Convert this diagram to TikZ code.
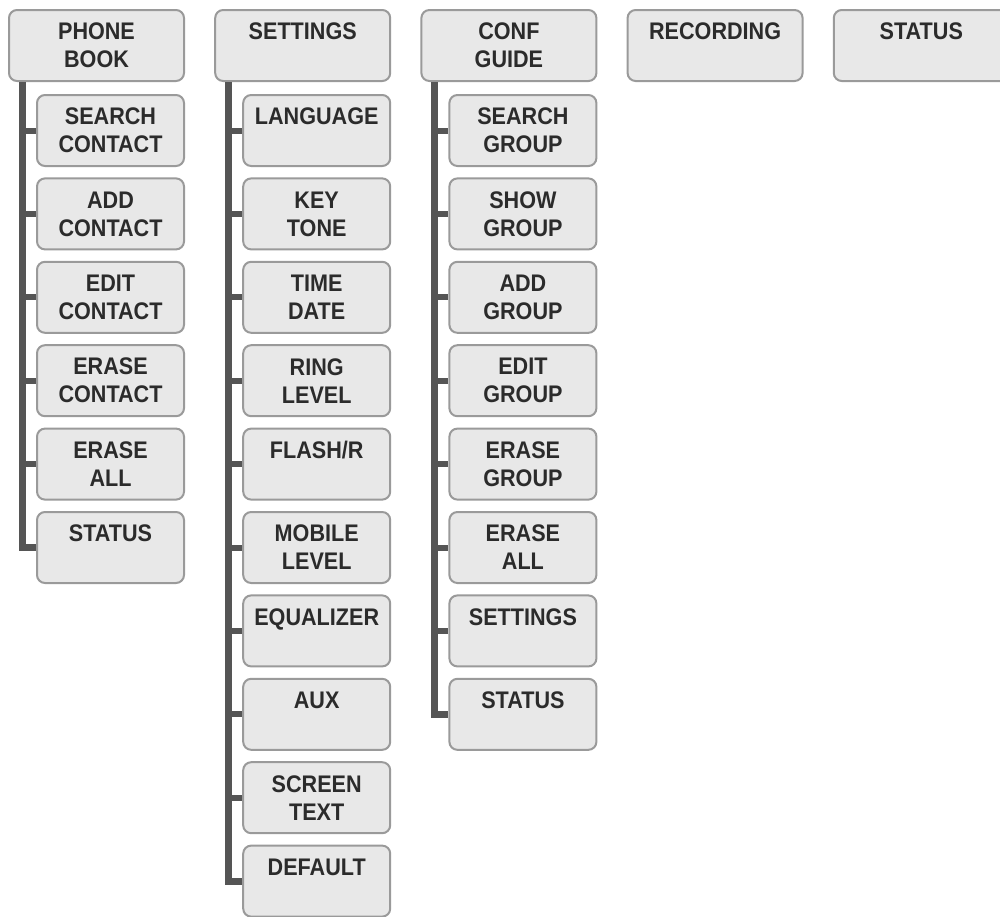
\documentclass[tikz,border=0pt]{standalone}
\usepackage{fontspec}
\setmainfont{Liberation Sans}[FakeStretch=0.9]
\definecolor{boxfill}{HTML}{E8E8E8}
\definecolor{boxline}{HTML}{9A9A9A}
\definecolor{boxtext}{HTML}{2B2B2B}
\definecolor{treeline}{HTML}{555555}
\begin{document}
\begin{tikzpicture}[x=0.5pt, y=-0.5pt,
    box/.style={draw=boxline, line width=1pt, fill=boxfill, rounded corners=4pt,
                align=center, minimum height=35.5pt, inner sep=0pt,
                text=boxtext, font=\fontsize{12}{14}\selectfont\bfseries},
    topbox/.style={box, minimum width=87.5pt},
    subbox/.style={box, minimum width=73.5pt},
    trunk/.style={draw=treeline, line width=3.5pt},
    stub/.style={draw=treeline, line width=3pt}
]
\useasboundingbox[fill=white] (0,0) rectangle (1000,916);

% top row
\node[topbox] (pb)  at (96.5,45.5)  {PHONE\\BOOK};
\node[topbox] (set) at (302.7,45.5) {SETTINGS\\~};
\node[topbox] (cg)  at (508.9,45.5) {CONF\\GUIDE};
\node[topbox] (rec) at (715.1,45.5) {RECORDING\\~};
\node[topbox] (st)  at (921.3,45.5) {STATUS\\~};

% phone book
\node[subbox] (pb1) at (110.5,130.5) {SEARCH\\CONTACT};
\node[subbox] (pb2) at (110.5,213.9) {ADD\\CONTACT};
\node[subbox] (pb3) at (110.5,297.3) {EDIT\\CONTACT};
\node[subbox] (pb4) at (110.5,380.7) {ERASE\\CONTACT};
\node[subbox] (pb5) at (110.5,464.1) {ERASE\\ALL};
\node[subbox] (pb6) at (110.5,547.5) {STATUS\\~};

% settings
\node[subbox] (set1)  at (316.7,130.5) {LANGUAGE\\~};
\node[subbox] (set2)  at (316.7,213.9) {KEY\\TONE};
\node[subbox] (set3)  at (316.7,297.3) {TIME\\DATE};
\node[subbox] (set4)  at (316.7,380.7) {RING\\LEVEL};
\node[subbox] (set5)  at (316.7,464.1) {FLASH/R\\~};
\node[subbox] (set6)  at (316.7,547.5) {MOBILE\\LEVEL};
\node[subbox] (set7)  at (316.7,630.9) {EQUALIZER\\~};
\node[subbox] (set8)  at (316.7,714.3) {AUX\\~};
\node[subbox] (set9)  at (316.7,797.7) {SCREEN\\TEXT};
\node[subbox] (set10) at (316.7,881.1) {DEFAULT\\~};

% conf guide
\node[subbox] (cg1) at (522.9,130.5) {SEARCH\\GROUP};
\node[subbox] (cg2) at (522.9,213.9) {SHOW\\GROUP};
\node[subbox] (cg3) at (522.9,297.3) {ADD\\GROUP};
\node[subbox] (cg4) at (522.9,380.7) {EDIT\\GROUP};
\node[subbox] (cg5) at (522.9,464.1) {ERASE\\GROUP};
\node[subbox] (cg6) at (522.9,547.5) {ERASE\\ALL};
\node[subbox] (cg7) at (522.9,630.9) {SETTINGS\\~};
\node[subbox] (cg8) at (522.9,714.3) {STATUS\\~};

% tree lines
\coordinate (pbt)  at ([xshift=-37pt]pb.south);
\coordinate (sett) at ([xshift=-37pt]set.south);
\coordinate (cgt)  at ([xshift=-37pt]cg.south);

\draw[trunk] (pbt) |- (pb6.west);
\draw[stub] (pbt |- pb1.west) -- (pb1.west);
\draw[stub] (pbt |- pb2.west) -- (pb2.west);
\draw[stub] (pbt |- pb3.west) -- (pb3.west);
\draw[stub] (pbt |- pb4.west) -- (pb4.west);
\draw[stub] (pbt |- pb5.west) -- (pb5.west);

\draw[trunk] (sett) |- (set10.west);
\draw[stub] (sett |- set1.west) -- (set1.west);
\draw[stub] (sett |- set2.west) -- (set2.west);
\draw[stub] (sett |- set3.west) -- (set3.west);
\draw[stub] (sett |- set4.west) -- (set4.west);
\draw[stub] (sett |- set5.west) -- (set5.west);
\draw[stub] (sett |- set6.west) -- (set6.west);
\draw[stub] (sett |- set7.west) -- (set7.west);
\draw[stub] (sett |- set8.west) -- (set8.west);
\draw[stub] (sett |- set9.west) -- (set9.west);

\draw[trunk] (cgt) |- (cg8.west);
\draw[stub] (cgt |- cg1.west) -- (cg1.west);
\draw[stub] (cgt |- cg2.west) -- (cg2.west);
\draw[stub] (cgt |- cg3.west) -- (cg3.west);
\draw[stub] (cgt |- cg4.west) -- (cg4.west);
\draw[stub] (cgt |- cg5.west) -- (cg5.west);
\draw[stub] (cgt |- cg6.west) -- (cg6.west);
\draw[stub] (cgt |- cg7.west) -- (cg7.west);
\end{tikzpicture}
\end{document}
